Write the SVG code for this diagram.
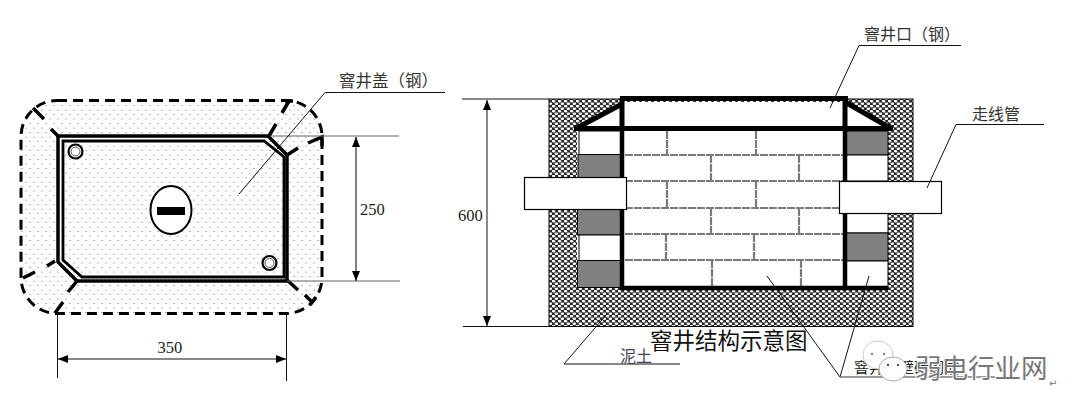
<svg xmlns="http://www.w3.org/2000/svg" width="1083" height="415" viewBox="0 0 1083 415">
<style>
.lbl{font-family:"Noto Sans CJK SC","Liberation Serif",serif;font-size:16.500px;fill:#333}
.num{font-family:"Liberation Serif",serif;font-size:16.500px;fill:#222}
.tick{fill:none;stroke:#000;stroke-width:3.500}
.thin{fill:none;stroke:#111;stroke-width:1}
.dim{fill:none;stroke:#666;stroke-width:1.200}
.wall{fill:none;stroke:#000;stroke-width:4.500}
.hat{fill:none;stroke:#000;stroke-width:5}
.brick{fill:none;stroke:#7a7a7a;stroke-width:2.200;stroke-dasharray:8 1}
.gb{fill:#808080;stroke:#000;stroke-width:1}
.wb{fill:#fff;stroke:#000;stroke-width:1}
.pipe{fill:#fff;stroke:#000;stroke-width:1.200}
</style>
<defs>
<pattern id="dots" width="8" height="9" patternUnits="userSpaceOnUse">
<rect width="8" height="9" fill="#fff"/>
<circle cx="2" cy="2" r="0.600" fill="#666"/>
<circle cx="6" cy="6.500" r="0.600" fill="#666"/>
</pattern>
<pattern id="soil" width="6" height="5" patternUnits="userSpaceOnUse">
<rect width="6" height="5" fill="#2a2a2a"/>
<ellipse cx="1.500" cy="1.200" rx="1.900" ry="1.250" fill="#fff"/>
<ellipse cx="4.500" cy="3.700" rx="1.900" ry="1.250" fill="#fff"/>
</pattern>
<marker id="arr" viewBox="0 0 10 10" refX="10" refY="5" markerWidth="10" markerHeight="10" markerUnits="userSpaceOnUse" orient="auto-start-reverse"><path d="M0,1 L10,5 L0,9 Z" fill="#000"/></marker>
</defs>

<g id="cover-plan">
<rect x="21" y="100.500" width="301" height="213" rx="36" fill="url(#dots)" stroke="#000" stroke-width="3" stroke-dasharray="10 6"/>
<path d="M58,136 H268 L287,155 V281 H77 L58,262 Z" fill="none" stroke="#000" stroke-width="3.500"/>
<path d="M63,141 H264 L284,157 V277 H82 L63,260 Z" fill="none" stroke="#000" stroke-width="2.800"/>
<circle cx="75.500" cy="151.500" r="7" fill="#fff" stroke="#000" stroke-width="2.200"/>
<circle cx="75.500" cy="151.500" r="4.500" fill="#fff" stroke="#555" stroke-width="1"/>
<circle cx="269.500" cy="263" r="7" fill="#fff" stroke="#000" stroke-width="2.200"/>
<circle cx="269.500" cy="263" r="4.500" fill="#fff" stroke="#555" stroke-width="1"/>
<ellipse cx="171" cy="210" rx="20.500" ry="24" fill="#fff" stroke="#000" stroke-width="2"/>
<rect x="157" y="207" width="28" height="8" fill="#000"/>
<path class="tick" d="M58,136 L51,129 M44,119 L33,108 M269,136 L276,124 M282,113 L289,101 M285,101 H293 M287,155 L298,148 M308,143 L322,137 V146 M47,266 L55,261 M23,278 L35,272 M77,281 L68,292 M63,302 L55,313 M287,280 L298,290 M305,295 L313,303 M310,305 L316,297"/>
</g>

<g id="plan-dimensions">
<path class="dim" d="M270,136 H399 M287,281 H400"/>
<path d="M356,137 V281" fill="none" stroke="#555" stroke-width="1.500" marker-start="url(#arr)" marker-end="url(#arr)"/>
<path class="thin" d="M57.500,313 V378 M286.500,313 V381"/>
<path class="thin" d="M58,359 H286" marker-start="url(#arr)" marker-end="url(#arr)"/>
<text class="num" x="360" y="215">250</text>
<text class="num" x="157.500" y="353">350</text>
</g>

<g id="cover-label">
<path class="thin" d="M445,92.500 H325 L239,194"/>
<text class="lbl" x="339" y="87">窨井盖（钢）</text>
</g>

<g id="well-section">
<rect x="549" y="99" width="364" height="227.500" fill="url(#soil)" stroke="#000" stroke-width="1"/>
<path d="M622,102 L577,129 V287 H888 V129 L845,102 Z" fill="#fff"/>
<rect class="wb" x="579" y="131" width="43" height="23.500"/>
<rect class="gb" x="578" y="154.500" width="44" height="23"/>
<rect class="gb" x="577.500" y="209" width="44.500" height="26"/>
<rect class="wb" x="579" y="235" width="43" height="25.500"/>
<rect class="gb" x="577.500" y="260.500" width="44.500" height="27"/>
<rect class="gb" x="845" y="131" width="43" height="24"/>
<rect class="wb" x="845" y="155" width="43" height="26"/>
<rect class="wb" x="845" y="213" width="43" height="20"/>
<rect class="gb" x="845" y="233" width="43" height="28"/>
<rect class="wb" x="845" y="261" width="43" height="27"/>
<path class="brick" d="M625,155 H843 M625,181 H843 M625,208 H843 M625,234 H843 M625,260 H843 M667,131 V155 M756,131 V155 M711,155 V181 M799,155 V181 M667,181 V208 M756,181 V208 M711,208 V234 M799,208 V234 M666,234 V260 M754,234 V260 M712,260 V286 M801,260 V286"/>
<path class="wall" d="M622,128 V288 H888 M845,128 V288"/>
<path class="hat" d="M620,98.500 H848 M574,128.500 H893 M622,98.500 V128.500 M845,98.500 V128.500 M622,104 L575,129 M845,102 L892,129"/>
<rect class="pipe" x="524.500" y="177.500" width="102" height="32"/>
<rect class="pipe" x="839.500" y="181.500" width="102" height="32"/>
</g>

<g id="section-dimensions">
<path class="thin" d="M462,99 H549 M463,326.500 H549"/>
<path class="thin" d="M487,100 V326" marker-start="url(#arr)" marker-end="url(#arr)"/>
<text class="num" x="458" y="221">600</text>
</g>

<g id="connectors">
<path class="thin" d="M961,45.500 H859 L830,108"/>
<path class="thin" d="M1044,124.500 H956 L927,188"/>
<path class="thin" d="M607,314 L564,364 H680"/>
<path class="thin" d="M767,276 L840,377 L869,276"/>
<path d="M840,377 H1000" fill="none" stroke="#777" stroke-width="1.500"/>
</g>

<g id="labels">
<text class="lbl" x="864" y="40" style="font-size:16px">窨井口（钢）</text>
<text class="lbl" x="972" y="120" style="font-size:16px">走线管</text>
<text class="lbl" x="620" y="362" style="fill:#445;font-size:16px">泥土</text>
<text x="650" y="349" font-family="Noto Sans CJK SC,Liberation Serif,serif" font-size="22.500" fill="#111">窨井结构示意图</text>
<text class="lbl" x="854" y="373" style="fill:#222;font-size:15px">窨井四壁砖砌成</text>
</g>

<g id="watermark">
<ellipse cx="878" cy="355" rx="15" ry="14" fill="#fff" stroke="#ccc" stroke-width="1"/>
<circle cx="872" cy="354" r="1.200" fill="#888"/>
<circle cx="884" cy="354" r="1.200" fill="#888"/>
<ellipse cx="893" cy="369" rx="14" ry="12" fill="#fff" stroke="#aaa" stroke-width="1"/>
<circle cx="888" cy="365" r="1.200" fill="#555"/>
<circle cx="898" cy="365" r="1.200" fill="#555"/>
<text x="915" y="378" font-family="Noto Sans CJK SC,sans-serif" font-size="26.500" fill="#777" stroke="#fff" stroke-width="2" paint-order="stroke">弱电行业网</text>
<text x="1049" y="387" font-family="DejaVu Sans,sans-serif" font-size="10" fill="#777">↵</text>
</g>
</svg>
